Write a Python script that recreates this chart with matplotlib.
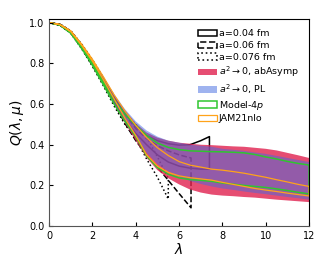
import numpy as np
import matplotlib
matplotlib.use("Agg")
from matplotlib import pyplot as plt

#============================================================
# data
#============================================================

lam = np.arange(0, 12.01, 0.5)

# a^2 -> 0, abAsymp band
red_hi = [1.0, 0.992, 0.958, 0.89, 0.815, 0.735, 0.645, 0.57, 0.505, 0.46, 0.435, 0.42, 0.41,
          0.405, 0.40, 0.398, 0.395, 0.392, 0.39, 0.385, 0.38, 0.372, 0.36, 0.348, 0.335]
red_lo = [1.0, 0.988, 0.95, 0.875, 0.795, 0.705, 0.598, 0.505, 0.42, 0.335, 0.275, 0.235, 0.205,
          0.18, 0.165, 0.155, 0.15, 0.147, 0.143, 0.14, 0.135, 0.13, 0.126, 0.122, 0.118]

# a^2 -> 0, PL band
blue_hi = [1.0, 0.992, 0.958, 0.89, 0.815, 0.735, 0.65, 0.575, 0.515, 0.47, 0.44, 0.42, 0.41,
           0.40, 0.395, 0.39, 0.38, 0.375, 0.37, 0.362, 0.355, 0.345, 0.335, 0.325, 0.315]
blue_lo = [1.0, 0.988, 0.95, 0.875, 0.795, 0.708, 0.60, 0.512, 0.435, 0.36, 0.305, 0.268, 0.242,
           0.222, 0.207, 0.195, 0.185, 0.178, 0.17, 0.163, 0.157, 0.15, 0.143, 0.137, 0.13]

# Model-4p
green_hi = [1.0, 0.99, 0.952, 0.882, 0.80, 0.71, 0.62, 0.55, 0.495, 0.445, 0.408, 0.387, 0.376,
            0.37, 0.368, 0.366, 0.365, 0.363, 0.36, 0.352, 0.34, 0.33, 0.318, 0.308, 0.30]
green_lo = [1.0, 0.988, 0.948, 0.874, 0.79, 0.695, 0.60, 0.515, 0.44, 0.345, 0.288, 0.255, 0.237,
            0.229, 0.225, 0.22, 0.212, 0.206, 0.20, 0.195, 0.19, 0.183, 0.175, 0.166, 0.158]

# JAM21nlo
orange_hi = [1.0, 0.992, 0.96, 0.895, 0.82, 0.735, 0.645, 0.565, 0.495, 0.435, 0.385, 0.347, 0.317,
             0.30, 0.29, 0.28, 0.275, 0.268, 0.26, 0.25, 0.24, 0.228, 0.217, 0.205, 0.195]
orange_lo = [1.0, 0.99, 0.955, 0.888, 0.81, 0.72, 0.625, 0.53, 0.445, 0.35, 0.295, 0.264, 0.247,
             0.238, 0.232, 0.226, 0.215, 0.205, 0.195, 0.185, 0.177, 0.17, 0.162, 0.155, 0.148]

# lattice data, one band per spacing
lam_004 = [0, 0.5, 1, 1.5, 2, 2.5, 3, 3.5, 4, 4.5, 5, 5.5, 6, 6.5, 7, 7.4]
hi_004 = [1.0, 0.992, 0.957, 0.89, 0.812, 0.725, 0.635, 0.555, 0.49, 0.445, 0.42, 0.405, 0.398, 0.40, 0.42, 0.44]
lo_004 = [1.0, 0.988, 0.95, 0.878, 0.80, 0.71, 0.615, 0.525, 0.455, 0.40, 0.35, 0.315, 0.295, 0.285, 0.28, 0.28]

lam_006 = [0, 0.5, 1, 1.5, 2, 2.5, 3, 3.5, 4, 4.5, 5, 5.5, 6, 6.55]
hi_006 = [1.0, 0.992, 0.958, 0.89, 0.81, 0.72, 0.63, 0.55, 0.48, 0.43, 0.395, 0.37, 0.35, 0.335]
lo_006 = [1.0, 0.988, 0.95, 0.875, 0.79, 0.70, 0.605, 0.505, 0.42, 0.35, 0.29, 0.225, 0.16, 0.09]

lam_0076 = [0, 0.5, 1, 1.5, 2, 2.5, 3, 3.5, 4, 4.5, 5, 5.5]
hi_0076 = [1.0, 0.993, 0.96, 0.895, 0.818, 0.73, 0.64, 0.555, 0.50, 0.44, 0.34, 0.235]
lo_0076 = [1.0, 0.987, 0.948, 0.872, 0.785, 0.69, 0.59, 0.50, 0.43, 0.33, 0.24, 0.133]

#============================================================
# plot
#============================================================

plt.figure(figsize=(3.32, 2.66), dpi=100)
ax = plt.axes([0.148, 0.150, 0.783, 0.780])

lw = 1.1
ax.fill_between(lam_004, lo_004, hi_004, facecolor="none", edgecolor="k", linestyle="-", linewidth=lw, label="a=0.04 fm")
ax.fill_between(lam_006, lo_006, hi_006, facecolor="none", edgecolor="k", linestyle="--", linewidth=lw, label="a=0.06 fm")
ax.fill_between(lam_0076, lo_0076, hi_0076, facecolor="none", edgecolor="k", linestyle=":", linewidth=lw, label="a=0.076 fm")

ax.fill_between(lam, red_lo, red_hi, facecolor="#e0204f", alpha=0.8, linewidth=0, label=r"$a^2\rightarrow0$, abAsymp")
ax.fill_between(lam, blue_lo, blue_hi, facecolor="#4169e1", alpha=0.5, linewidth=0, label=r"$a^2\rightarrow0$, PL")

ax.fill_between(lam, green_lo, green_hi, facecolor="none", edgecolor="#2fc62f", linewidth=1.1, label="Model-4$p$")
ax.fill_between(lam, orange_lo, orange_hi, facecolor="none", edgecolor="#ffa31a", linewidth=0.9, label="JAM21nlo")

ax.set_xlim(0, 12)
ax.set_ylim(0, 1.02)
ax.set_xticks(np.arange(0, 13, 2))
ax.set_yticks(np.arange(0, 1.01, 0.2))
ax.set_yticklabels(["%.1f" % v for v in np.arange(0, 1.01, 0.2)])
ax.tick_params(direction="in", labelsize=7, length=3, width=0.8)
for s in ["left", "bottom"]:
    ax.spines[s].set_color("#555555")
ax.set_xlabel(r"$\lambda$", fontsize=10, labelpad=1)
ax.set_ylabel(r"$Q(\lambda,\mu)$", fontsize=10, labelpad=2)

ax.legend(loc="upper right", fontsize=6.8, frameon=False, handlelength=2.0, handleheight=0.7,
          handletextpad=0.2, labelspacing=0.3, borderaxespad=0.4, bbox_to_anchor=(0.99, 0.985))

plt.savefig("out.png", dpi=100)
